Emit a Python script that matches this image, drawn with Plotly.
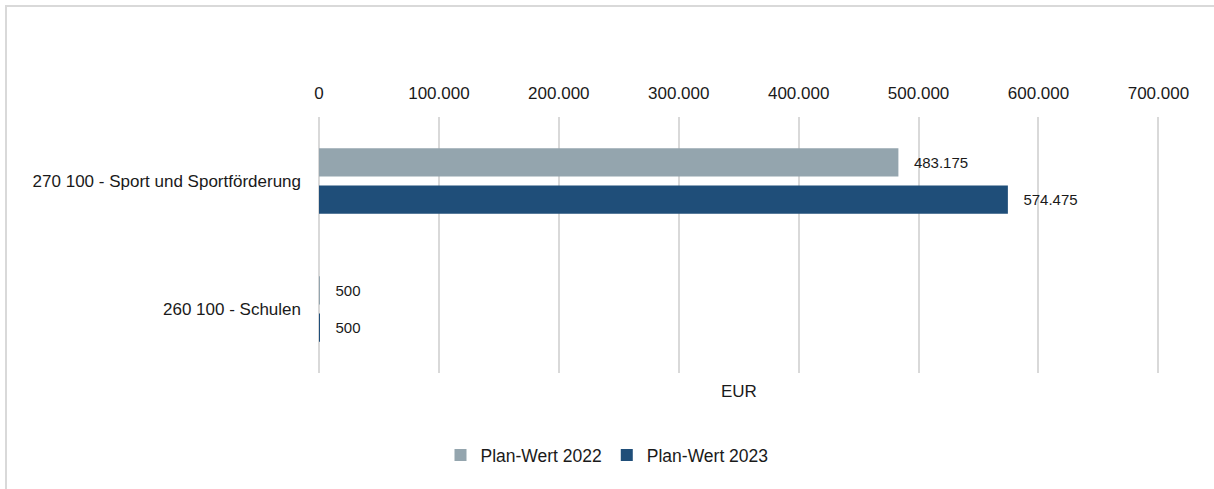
import plotly.graph_objects as go

categories = ["270 100 - Sport und Sportförderung", "260 100 - Schulen"]
plan_2022 = [483175, 500]
plan_2023 = [574475, 500]
series_names = ["Plan-Wert 2022", "Plan-Wert 2023"]
tick_values = [0, 100000, 200000, 300000, 400000, 500000, 600000, 700000]
tick_labels = ["0", "100.000", "200.000", "300.000", "400.000", "500.000", "600.000", "700.000"]
axis_title = "EUR"

FONT = "Liberation Sans, Arial, sans-serif"
TXT = "#1a1a1a"
colors = ["#94a5ae", "#1f4e79"]

fig = go.Figure()
for name, vals, col in zip(series_names, [plan_2022, plan_2023], colors):
    fig.add_trace(go.Bar(
        y=categories, x=vals, name=name, orientation="h",
        marker=dict(color=col, line=dict(width=0)),
        texttemplate="   %{x:,.0f}", textposition="outside",
        textfont=dict(family=FONT, size=15, color=TXT),
        cliponaxis=False,
    ))

fig.update_layout(
    width=1214, height=489,
    margin=dict(l=319, r=52, t=117, b=116, autoexpand=False),
    paper_bgcolor="white", plot_bgcolor="white",
    separators=",.",
    barmode="group", bargap=0.42, bargroupgap=0.24,
    font=dict(family=FONT, size=17, color=TXT),
    showlegend=True,
    legend=dict(orientation="h", xref="container", yref="container",
                x=0.5, xanchor="center", y=1 - 455 / 489, yanchor="middle",
                font=dict(family=FONT, size=17.5, color=TXT),
                itemwidth=30, bgcolor="rgba(0,0,0,0)"),
    xaxis=dict(side="top", range=[0, 703000], tickmode="array",
               tickvals=tick_values, ticktext=tick_labels,
               showgrid=True, gridcolor="#d9d9d9", gridwidth=2,
               zeroline=True, zerolinecolor="#d9d9d9", zerolinewidth=2,
               showline=False, ticks="", automargin=False,
               ticklabelstandoff=14,
               tickfont=dict(family=FONT, size=17, color=TXT)),
    yaxis=dict(autorange=False, range=[1.5, -0.5], type="category",
               showgrid=False, zeroline=False, showline=False, ticks="",
               automargin=False, ticklabelstandoff=17,
               tickfont=dict(family=FONT, size=17, color=TXT)),
    annotations=[dict(text=axis_title, xref="x", yref="paper",
                      x=350000, y=(373 - 391) / 256, xanchor="center", yanchor="middle",
                      showarrow=False,
                      font=dict(family=FONT, size=17, color=TXT))],
    shapes=[dict(type="rect", xref="paper", yref="paper",
                 x0=(6 - 319) / 843, x1=1.3, y0=-0.6, y1=(373 - 6) / 256,
                 line=dict(color="#d9d9d9", width=2), fillcolor="rgba(0,0,0,0)", layer="below")],
)

fig.write_html("out.html")
